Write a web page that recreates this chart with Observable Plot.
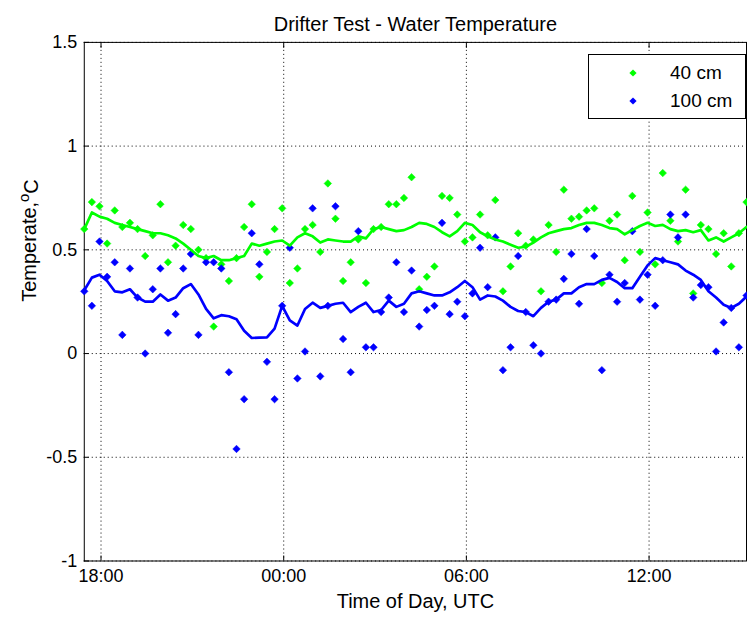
<!DOCTYPE html>
<html><head><meta charset="utf-8">
<script src="https://cdn.jsdelivr.net/npm/d3@7"></script>
<script src="https://cdn.jsdelivr.net/npm/@observablehq/plot@0.6"></script>
<style>
html,body{margin:0;padding:0;background:#fff;}
#wrap{position:relative;width:747px;height:619px;overflow:hidden;font-family:"Liberation Sans",Arial,sans-serif;}
#legend{position:absolute;left:588px;top:54px;width:158px;height:65px;border:1px solid #000;background:#fff;box-sizing:border-box;}
.item{position:absolute;left:0;width:100%;height:22px;font-size:19px;line-height:22px;color:#000;}
.item svg{position:absolute;left:38px;top:5px;}
.item span{position:absolute;left:81px;top:0;}
</style></head><body><div id="wrap"><div id="legend"></div></div>
<script>
const chartTitle = "Drifter Test - Water Temperature";
const xAxisTitle = "Time of Day, UTC";
const yAxisTitleParts = ["Temperate,", "o", "C"];
const seriesNames = ["40 cm", "100 cm"];
const seriesColors = ["#00ff00", "#0000ff"];

const times = ["17:27","17:42","17:57","18:12","18:27","18:42","18:57","19:12","19:27","19:42",
"19:57","20:12","20:27","20:42","20:57","21:12","21:27","21:42","21:57","22:12",
"22:27","22:42","22:57","23:12","23:27","23:42","23:57","00:12","00:27","00:42",
"00:57","01:12","01:27","01:42","01:57","02:12","02:27","02:42","02:57","03:12",
"03:27","03:42","03:57","04:12","04:27","04:42","04:57","05:12","05:27","05:42",
"05:57","06:12","06:27","06:42","06:57","07:12","07:27","07:42","07:57","08:12",
"08:27","08:42","08:57","09:12","09:27","09:42","09:57","10:12","10:27","10:42",
"10:57","11:12","11:27","11:42","11:57","12:12","12:27","12:42","12:57","13:12",
"13:27","13:42","13:57","14:12","14:27","14:42","14:57","15:12"];

const temp40 = [0.60,0.73,0.71,0.53,0.69,0.61,0.63,0.60,0.47,0.57,
0.72,0.44,0.52,0.62,0.60,0.50,0.46,0.13,0.43,0.35,
0.46,0.61,0.72,0.37,0.49,0.60,0.70,0.34,0.41,0.60,
0.62,0.49,0.82,0.65,0.35,0.44,0.55,0.34,0.60,0.61,
0.72,0.72,0.75,0.85,0.31,0.37,0.42,0.76,0.75,0.67,
0.54,0.56,0.67,0.57,0.74,0.30,0.42,0.58,0.52,0.55,
0.30,0.62,0.49,0.79,0.65,0.66,0.69,0.70,0.34,0.64,
0.67,0.45,0.76,0.49,0.68,0.43,0.87,0.64,0.54,0.79,
0.29,0.62,0.60,0.48,0.58,0.42,0.58,0.73];

const temp100 = [0.30,0.23,0.54,0.37,0.44,0.09,0.41,0.27,0.00,0.31,
0.41,0.10,0.19,0.41,0.48,0.09,0.44,0.44,0.41,-0.09,
-0.46,-0.22,0.58,0.43,-0.04,-0.22,0.23,0.51,-0.12,0.01,
0.70,-0.11,0.23,0.71,0.07,-0.09,0.59,0.03,0.03,0.20,
0.27,0.44,0.20,0.40,0.13,0.21,0.23,0.63,0.19,0.25,
0.18,0.29,0.51,0.32,0.56,-0.08,0.03,0.47,0.20,0.04,
0.00,0.25,0.26,0.36,0.48,0.24,0.60,0.47,-0.08,0.38,
0.25,0.34,0.59,0.26,0.38,0.23,0.45,0.67,0.56,0.67,
0.27,0.33,0.32,0.01,0.15,0.22,0.03,0.28];

const trend40 = [0.60,0.68,0.66,0.65,0.63,0.62,0.61,0.60,0.59,0.58,
0.58,0.57,0.555,0.53,0.50,0.47,0.46,0.47,0.45,0.45,
0.46,0.47,0.53,0.52,0.53,0.54,0.545,0.52,0.56,0.58,
0.565,0.535,0.55,0.545,0.54,0.54,0.565,0.555,0.60,0.61,
0.60,0.59,0.595,0.61,0.63,0.625,0.61,0.585,0.565,0.59,
0.63,0.62,0.585,0.565,0.55,0.54,0.525,0.51,0.515,0.535,
0.56,0.58,0.59,0.60,0.605,0.62,0.63,0.63,0.62,0.605,
0.60,0.575,0.595,0.615,0.63,0.615,0.62,0.60,0.59,0.595,
0.585,0.595,0.545,0.56,0.54,0.56,0.58,0.61];

const trend100 = [0.305,0.366,0.38,0.35,0.30,0.295,0.31,0.27,0.25,0.25,
0.285,0.255,0.27,0.315,0.335,0.285,0.215,0.17,0.185,0.18,
0.165,0.11,0.075,0.077,0.078,0.12,0.23,0.16,0.135,0.215,
0.245,0.22,0.23,0.24,0.245,0.20,0.225,0.245,0.20,0.21,
0.255,0.225,0.24,0.29,0.30,0.29,0.28,0.28,0.295,0.32,
0.35,0.32,0.26,0.28,0.275,0.255,0.225,0.205,0.20,0.18,
0.22,0.25,0.26,0.29,0.29,0.32,0.335,0.335,0.355,0.365,
0.345,0.315,0.315,0.37,0.425,0.46,0.45,0.44,0.43,0.40,
0.38,0.355,0.30,0.27,0.235,0.22,0.24,0.275];

const xTickValues = [0, 6, 12, 18];
const xTickLabels = ["18:00", "00:00", "06:00", "12:00"];
const yTickValues = [-1, -0.5, 0, 0.5, 1, 1.5];
const yTickLabels = ["-1", "-0.5", "0", "0.5", "1", "1.5"];

// hours since 18:00 on the first day
const hourOf = s => { const [H, M] = s.split(":").map(Number); let h = H + M / 60 - 18; if (h < -1) h += 24; return h; };
const rows = times.map((t, i) => ({h: hourOf(t), t40: temp40[i], t100: temp100[i], m40: trend40[i], m100: trend100[i]}));

const font = "Liberation Sans, Arial, Helvetica, sans-serif";
const fsTick = 18;
const fsLabel = 20;
const grid = {stroke: "#000", strokeOpacity: 1, strokeWidth: 1, strokeDasharray: "1,3"};

const chart = Plot.plot({
  width: 749, height: 619,
  marginTop: 42, marginBottom: 57, marginLeft: 84, marginRight: 1,
  style: {fontFamily: font, fontSize: fsTick + "px", background: "#fff", color: "#000"},
  x: {domain: d3.extent(rows, d => d.h)},
  y: {domain: [-1, 1.5]},
  marks: [
    Plot.gridX(xTickValues, grid),
    Plot.gridY(yTickValues, grid),
    Plot.frame({stroke: "#000", strokeWidth: 1}),
    Plot.axisX(xTickValues, {anchor: "bottom", tickSize: -5, tickPadding: 13, tickFormat: (d, i) => xTickLabels[i], label: null, fontSize: fsTick}),
    Plot.axisX(xTickValues, {anchor: "top", tickSize: -5, tickFormat: () => "", label: null}),
    Plot.axisY(yTickValues, {anchor: "left", tickSize: -5, tickPadding: 12, tickFormat: (d, i) => yTickLabels[i], label: null, fontSize: fsTick}),
    Plot.dot(rows, {x: "h", y: "t40", symbol: "diamond2", r: 3.4, fill: seriesColors[0], stroke: seriesColors[0], strokeWidth: 0.5}),
    Plot.dot(rows, {x: "h", y: "t100", symbol: "diamond2", r: 3.4, fill: seriesColors[1], stroke: seriesColors[1], strokeWidth: 0.5}),
    Plot.line(rows, {x: "h", y: "m40", stroke: seriesColors[0], strokeWidth: 2.7}),
    Plot.line(rows, {x: "h", y: "m100", stroke: seriesColors[1], strokeWidth: 2.7}),
    Plot.text([chartTitle], {frameAnchor: "top", dy: -26, fontSize: fsLabel, fill: "#000"}),
    Plot.text([xAxisTitle], {frameAnchor: "bottom", dy: 47, fontSize: fsLabel, fill: "#000"}),
    Plot.text([yAxisTitleParts.join("")], {frameAnchor: "left", dx: -55, rotate: -90, fontSize: fsLabel, fill: "#000"})
  ]
});

const wrap = document.getElementById("wrap");
wrap.insertBefore(chart, wrap.firstChild);
chart.style.position = "absolute";
chart.style.left = "0";
chart.style.top = "0";

// superscript "o" in the y label
chart.querySelectorAll("text").forEach(t => {
  if (t.textContent === yAxisTitleParts.join("")) {
    t.textContent = "";
    const ns = "http://www.w3.org/2000/svg";
    const a = document.createElementNS(ns, "tspan"); a.textContent = yAxisTitleParts[0];
    const b = document.createElementNS(ns, "tspan"); b.textContent = yAxisTitleParts[1];
    b.setAttribute("dy", "-0.45em"); b.setAttribute("font-size", "15");
    const c = document.createElementNS(ns, "tspan"); c.textContent = yAxisTitleParts[2];
    c.setAttribute("dy", "0.45em");
    t.append(a, b, c);
  }
});

// legend
const legend = document.getElementById("legend");
seriesNames.forEach((name, i) => {
  const item = document.createElement("div");
  item.className = "item";
  item.style.top = (i === 0 ? 7 : 35) + "px";
  item.innerHTML = `<svg width="12" height="12" viewBox="-6 -6 12 12"><path d="M0,-3.6L3.6,0L0,3.6L-3.6,0Z" fill="${seriesColors[i]}"/></svg><span>${name}</span>`;
  legend.appendChild(item);
});
</script>
</body></html>
